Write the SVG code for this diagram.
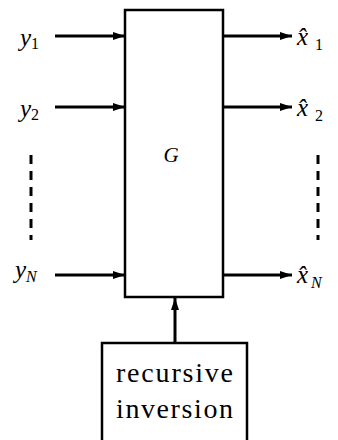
<svg xmlns="http://www.w3.org/2000/svg" width="338" height="440" viewBox="0 0 338 440">
<defs>
<style>
.box{fill:#fff;stroke:#000;stroke-width:2.5}
.ln{stroke:#000;stroke-width:3;fill:none}
.dash{stroke:#000;stroke-width:3;fill:none;stroke-dasharray:9 7}
.sf{font-family:'Liberation Serif','DejaVu Serif',serif}
.it{font-style:italic}
</style>
<marker id="ah" markerWidth="12" markerHeight="8" refX="12" refY="4" orient="auto" markerUnits="userSpaceOnUse">
<path d="M0,0 L12,4 L0,8 Z" fill="#000"/>
</marker>
</defs>
<rect width="338" height="440" fill="#fff"/>
<g id="G">
<rect class="box" x="125" y="10" width="98" height="287"/>
<text class="sf it" x="171" y="162" font-size="21" text-anchor="middle">G</text>
</g>
<g id="rec">
<rect class="box" x="102" y="343" width="145" height="100"/>
<text class="sf" x="174.5" y="382" font-size="28" text-anchor="middle" textLength="117" lengthAdjust="spacing">recursive</text>
<text class="sf" x="174.5" y="418" font-size="28" text-anchor="middle" textLength="117" lengthAdjust="spacing">inversion</text>
</g>
<g id="labels" class="sf it">
<text x="20" y="46" font-size="25">y<tspan font-size="16" font-style="normal" dy="3">1</tspan></text>
<text x="20" y="117" font-size="25">y<tspan font-size="16" font-style="normal" dy="3">2</tspan></text>
<text x="15" y="278" font-size="25">y<tspan font-size="16" dy="4">N</tspan></text>
<text x="297" y="45" font-size="25">x̂<tspan font-size="16" font-style="normal" dx="7" dy="5">1</tspan></text>
<text x="297" y="116" font-size="25">x̂<tspan font-size="16" font-style="normal" dx="7" dy="5">2</tspan></text>
<text x="297" y="283" font-size="25">x̂<tspan font-size="16" dx="3" dy="5">N</tspan></text>
</g>
<g id="connectors">
<line class="ln" x1="55" y1="36" x2="125" y2="36" marker-end="url(#ah)"/>
<line class="ln" x1="55" y1="107" x2="125" y2="107" marker-end="url(#ah)"/>
<line class="ln" x1="55" y1="275" x2="125" y2="275" marker-end="url(#ah)"/>
<line class="ln" x1="223" y1="36" x2="292" y2="36" marker-end="url(#ah)"/>
<line class="ln" x1="223" y1="107" x2="292" y2="107" marker-end="url(#ah)"/>
<line class="ln" x1="223" y1="275" x2="292" y2="275" marker-end="url(#ah)"/>
<line class="ln" x1="175" y1="343" x2="175" y2="298" marker-end="url(#ah)"/>
<line class="dash" x1="31" y1="155" x2="31" y2="240"/>
<line class="dash" x1="318" y1="155" x2="318" y2="240"/>
</g>
</svg>
